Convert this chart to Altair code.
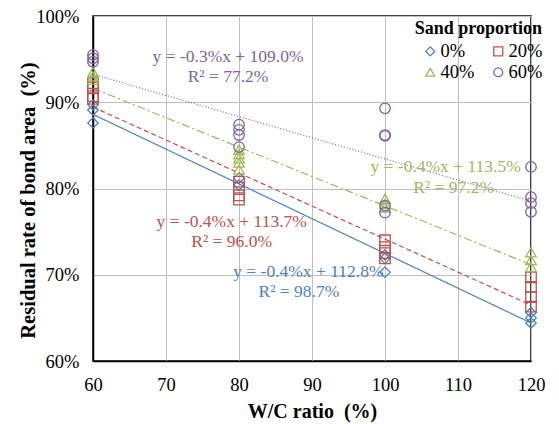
import altair as alt
import pandas as pd

# ---- data ----
sand_levels = ["0%", "20%", "40%", "60%"]

wc_0 = [60, 60, 60, 80, 80, 100, 100, 100, 120, 120, 120]
res_0 = [89.7, 89.1, 87.6, 81.2, 80.4, 72.3, 71.9, 70.3, 65.6, 65.0, 64.4]

wc_20 = [60, 60, 60, 60, 80, 80, 80, 80, 100, 100, 100, 100, 120, 120, 120, 120]
res_20 = [92.2, 91.7, 90.7, 90.4, 80.8, 80.1, 79.2, 78.7, 74.0, 73.2, 72.5, 71.9, 69.7, 68.6, 67.4, 66.3]

wc_40 = [60, 60, 60, 80, 80, 80, 80, 80, 100, 100, 100, 120, 120, 120]
res_40 = [93.5, 93.0, 92.6, 84.5, 84.0, 83.5, 83.0, 82.2, 78.8, 78.2, 77.8, 72.6, 71.7, 70.9]

wc_60 = [60, 60, 60, 80, 80, 80, 80, 100, 100, 100, 100, 100, 120, 120, 120, 120]
res_60 = [95.5, 95.1, 94.7, 87.4, 86.8, 86.2, 84.8, 89.3, 86.2, 86.1, 78.0, 77.2, 82.5, 79.0, 78.3, 77.3]

series_colors = ["#4F81BD", "#C0504D", "#9BBB59", "#8064A2"]
series_shapes = ["diamond", "square", "triangle-up", "circle"]
series_dashes = [[1, 0], [5, 3], [8, 3, 2, 3], [1, 2]]

eq_text = ["y = -0.4%x + 112.8%", "R² = 98.7%",
           "y = -0.4%x + 113.7%", "R² = 96.0%",
           "y = -0.4%x + 113.5%", "R² = 97.2%",
           "y = -0.3%x + 109.0%", "R² = 77.2%"]
eq_series = ["0%", "0%", "20%", "20%", "40%", "40%", "60%", "60%"]
eq_x = [89.5, 88.2, 79.0, 79.0, 108.3, 109.4, 78.5, 78.5]
eq_y = [70.3, 68.0, 76.1, 73.8, 82.5, 80.1, 95.2, 92.9]

x_ticks = [60, 70, 80, 90, 100, 110, 120]
y_ticks = [60, 70, 80, 90, 100]

# ---- build tables ----
rows = []
for lvl, xs, ys in zip(sand_levels, [wc_0, wc_20, wc_40, wc_60],
                       [res_0, res_20, res_40, res_60]):
    for a, b in zip(xs, ys):
        rows.append({"sand": lvl, "wc": a, "res": b})
df = pd.DataFrame(rows)
color_of = dict(zip(sand_levels, series_colors))
ann = pd.DataFrame({"text": eq_text, "sand": eq_series, "x": eq_x, "y": eq_y,
                    "col": [color_of[s] for s in eq_series]})

FONT = "Liberation Serif"
LEG_TITLE = "Sand proportion"

xscale = alt.Scale(domain=[60, 120], nice=False, zero=False)
yscale = alt.Scale(domain=[60, 100], nice=False, zero=False)
cscale = alt.Scale(domain=sand_levels, range=series_colors)

xaxis = alt.Axis(values=x_ticks, title="W/C ratio\u2002(%)", ticks=False,
                 labelFont=FONT, labelFontSize=18.5, labelColor="black",
                 labelPadding=14, titleFont=FONT, titleFontSize=20,
                 titleFontWeight="bold", titleColor="black", titlePadding=8,
                 grid=True, gridColor="#BFBFBF", domainColor="black",
                 domainWidth=1.5, labelFlush=False)
yaxis = alt.Axis(values=y_ticks, title="Residual rate of bond area\u2002(%)",
                 ticks=False, labelExpr="datum.value + '%'",
                 labelFont=FONT, labelFontSize=18.5, labelColor="black",
                 labelPadding=14, titleFont=FONT, titleFontSize=20.5,
                 titleFontWeight="bold", titleColor="black",
                 titleX=-65, titleY=184, titleAngle=-90,
                 titleAlign="center", titleBaseline="middle",
                 grid=True, gridColor="#BFBFBF", domainColor="black",
                 domainWidth=1.5, labelFlush=False)

legend = alt.Legend(title=LEG_TITLE, orient="none", direction="horizontal",
                    legendX=322, legendY=4, columns=2,
                    titleFont=FONT, titleFontSize=18,
                    titleFontWeight="bold", titleColor="black",
                    labelFont=FONT, labelFontSize=18.5,
                    labelColor="black", symbolSize=80,
                    symbolStrokeWidth=1.3,
                    columnPadding=14,
                    rowPadding=2, labelOffset=1, titlePadding=4,
                    titleAnchor="end")

base = alt.Chart(df)

points = base.mark_point(filled=False, size=110, strokeWidth=1.3, opacity=1).encode(
    x=alt.X("wc:Q", scale=xscale, axis=xaxis),
    y=alt.Y("res:Q", scale=yscale, axis=yaxis),
    color=alt.Color("sand:N", scale=cscale, title=LEG_TITLE, legend=legend),
    shape=alt.Shape("sand:N", scale=alt.Scale(domain=sand_levels, range=series_shapes),
                    title=LEG_TITLE, legend=legend),
)

# one trend-line layer per series (least-squares fit of that series' points)
line_layers = []
for lvl, col, dash in zip(sand_levels, series_colors, series_dashes):
    line_layers.append(
        base.transform_filter(alt.datum.sand == lvl)
        .transform_regression("wc", "res", extent=[60, 120])
        .mark_line(strokeWidth=1.2, color=col, strokeDash=dash)
        .encode(
            x=alt.X("wc:Q", scale=xscale),
            y=alt.Y("res:Q", scale=yscale),
        )
    )

labels = alt.Chart(ann).mark_text(font=FONT, fontSize=17.5, align="center",
                                  baseline="middle").encode(
    x=alt.X("x:Q", scale=xscale),
    y=alt.Y("y:Q", scale=yscale),
    text="text:N",
    color=alt.Color("col:N", scale=None),
)

chart = alt.layer(*line_layers, points, labels).properties(
    width=438, height=345,
    autosize=alt.AutoSizeParams(type="none"),
    padding={"left": 93, "top": 16, "right": 28, "bottom": 63},
    background="white",
).configure_view(stroke="black", strokeWidth=1.5)

chart.save("out.html", embed_options={"renderer": "svg", "actions": False})
